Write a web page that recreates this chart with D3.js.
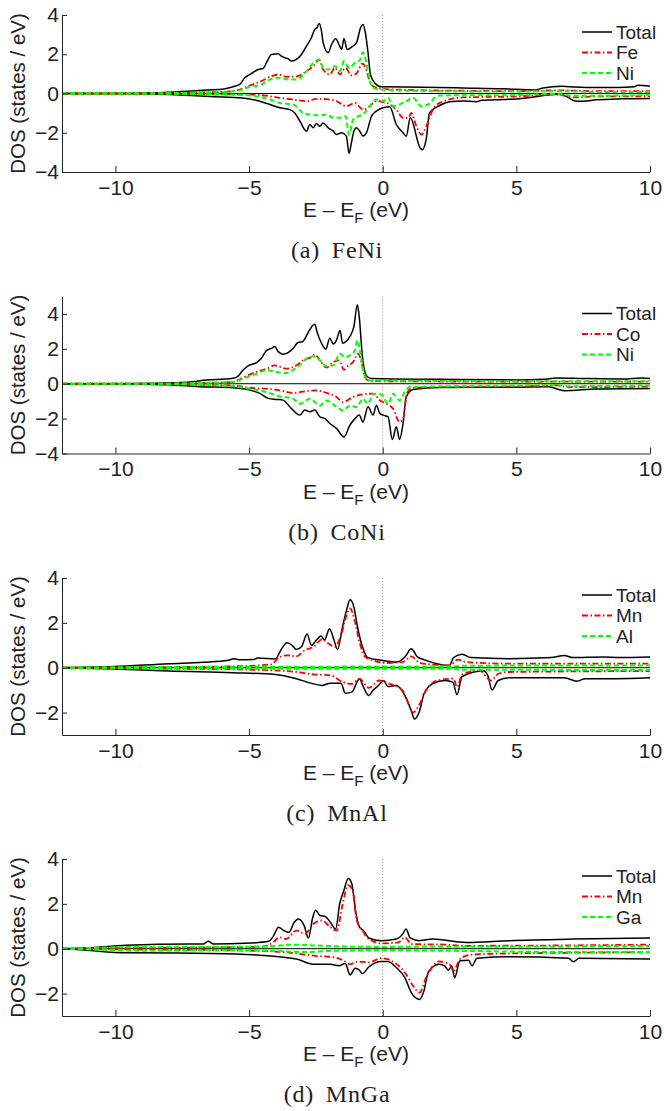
<!DOCTYPE html>
<html>
<head>
<meta charset="utf-8">
<script src="https://cdn.jsdelivr.net/npm/d3@7"></script>
<style>
  body { margin: 0; background: #fff; }
  svg text { font-family: "Liberation Sans", Arial, sans-serif; fill: #222; }
</style>
</head>
<body>
<script>
// Four spin-resolved DOS panels stacked vertically, MATLAB style.
var svg_width = 664;
var svg_height = 1111;

// shared x range and ticks
var energyDomain = [-12, 10];
var energyTicks = [-10, -5, 0, 5, 10];

// ---- (a) FeNi : [E, DOS] pairs ----
var feniTotalUp = [[-12,0],[-10,0],[-9,0.02],[-8,0.06],[-7,0.14],[-6.5,0.18],[-6,0.22],[-5.6,0.34],[-5.35,0.46],[-5.16,0.8],[-4.97,0.97],[-4.66,1.22],[-4.47,1.28],[-4.35,1.57],[-4.16,1.99],[-3.91,2.02],[-3.79,1.9],[-3.66,1.82],[-3.54,1.77],[-3.41,1.65],[-3.23,1.74],[-3.04,1.99],[-2.85,2.42],[-2.67,2.84],[-2.54,3.27],[-2.46,3.35],[-2.38,3.57],[-2.29,3.18],[-2.23,2.59],[-2.04,2.08],[-1.92,2.48],[-1.76,2.79],[-1.63,2.48],[-1.54,2.24],[-1.45,2.8],[-1.33,2.24],[-1.17,2.36],[-0.98,2.59],[-0.83,3.35],[-0.74,3.52],[-0.65,3.1],[-0.55,2.08],[-0.46,0.97],[-0.3,0.54],[-0.05,0.34],[1.5,0.32],[3,0.28],[4.5,0.24],[5.7,0.18],[6.0,0.28],[6.7,0.37],[7.2,0.33],[7.9,0.3],[8.8,0.3],[9.4,0.34],[9.55,0.42],[10,0.37]];
var feniTotalDn = [[-12,0],[-10,0],[-9,-0.02],[-8,-0.05],[-7,-0.12],[-6,-0.18],[-5.35,-0.22],[-4.6,-0.39],[-4.22,-0.56],[-3.85,-0.73],[-3.48,-0.82],[-3.29,-0.99],[-3.1,-1.41],[-2.85,-1.92],[-2.73,-1.58],[-2.6,-1.75],[-2.48,-1.53],[-2.35,-1.67],[-2.23,-1.5],[-2.04,-1.75],[-1.85,-1.92],[-1.73,-2.09],[-1.54,-2.0],[-1.36,-2.17],[-1.26,-3.06],[-1.17,-2.5],[-1.08,-1.92],[-0.98,-1.75],[-0.86,-1.92],[-0.74,-2.17],[-0.61,-2.0],[-0.42,-1.16],[-0.24,-0.9],[0.01,-0.73],[0.26,-0.68],[0.51,-1.58],[0.76,-2.0],[0.88,-2.18],[1.03,-1.24],[1.4,-2.77],[1.48,-2.86],[1.63,-2.3],[1.75,-0.99],[2.13,-0.61],[2.5,-0.42],[3.0,-0.38],[3.5,-0.42],[3.7,-0.35],[4.5,-0.3],[5.2,-0.25],[5.8,-0.15],[6.5,-0.04],[6.8,-0.1],[7.2,-0.38],[7.5,-0.4],[8,-0.32],[9,-0.27],[10,-0.25]];
var feniFeUp = [[-12,0],[-9,0],[-8,0.02],[-7,0.05],[-6,0.08],[-5.35,0.2],[-4.97,0.41],[-4.54,0.63],[-4.16,0.88],[-3.91,0.97],[-3.6,0.85],[-3.23,0.87],[-2.85,1.14],[-2.54,1.48],[-2.38,1.73],[-2.23,1.22],[-1.98,0.97],[-1.79,1.31],[-1.6,0.97],[-1.39,1.31],[-1.17,0.92],[-0.98,1.02],[-0.76,1.52],[-0.64,1.31],[-0.51,0.71],[-0.36,0.37],[-0.05,0.24],[1,0.18],[3,0.14],[5,0.12],[6.5,0.16],[8,0.12],[10,0.12]];
var feniFeDn = [[-12,0],[-9,0],[-7,-0.03],[-5.5,-0.05],[-4.97,-0.05],[-4.22,-0.14],[-3.85,-0.22],[-3.35,-0.31],[-2.85,-0.39],[-2.48,-0.27],[-2.1,-0.29],[-1.73,-0.39],[-1.36,-0.65],[-1.04,-0.48],[-0.74,-0.82],[-0.49,-0.65],[-0.24,-0.39],[0.14,-0.48],[0.51,-0.82],[0.76,-1.24],[0.95,-1.24],[1.07,-0.99],[1.26,-1.67],[1.45,-2.09],[1.63,-1.67],[1.88,-0.82],[2.13,-0.48],[3,-0.2],[5,-0.15],[6.5,-0.05],[7.2,-0.2],[8,-0.15],[10,-0.14]];
var feniNiUp = [[-12,0],[-9,0],[-8,0.02],[-7,0.04],[-6,0.07],[-5.35,0.17],[-4.97,0.34],[-4.54,0.46],[-4.22,0.71],[-3.91,0.8],[-3.48,0.71],[-3.23,0.71],[-2.85,1.14],[-2.6,1.56],[-2.38,1.73],[-2.23,1.31],[-2.04,1.22],[-1.79,1.39],[-1.6,1.14],[-1.45,1.65],[-1.26,1.31],[-1.04,1.56],[-0.86,1.7],[-0.74,2.1],[-0.61,1.56],[-0.49,0.71],[-0.36,0.29],[-0.05,0.2],[2,0.12],[5,0.1],[6.5,0.12],[8,0.08],[10,0.08]];
var feniNiDn = [[-12,0],[-9,0],[-7,-0.03],[-5.5,-0.06],[-4.97,-0.1],[-4.22,-0.31],[-3.85,-0.48],[-3.35,-0.56],[-2.98,-0.99],[-2.73,-1.07],[-2.35,-1.12],[-2.1,-1.07],[-1.85,-1.24],[-1.6,-1.24],[-1.39,-1.16],[-1.26,-2.09],[-1.11,-1.33],[-0.92,-1.16],[-0.74,-1.07],[-0.49,-0.65],[-0.24,-0.31],[0.01,-0.39],[0.2,-0.22],[0.39,-0.65],[0.63,-0.56],[0.88,-0.39],[1.13,-0.22],[1.45,-0.65],[1.7,-0.56],[1.94,-0.22],[2.13,-0.1],[5,-0.08],[6.5,-0.02],[7.2,-0.12],[10,-0.08]];

// ---- (b) CoNi ----
var coniTotalUp = [[-12,0],[-10,0],[-9,0.01],[-8,0.05],[-7,0.13],[-6.84,0.17],[-5.6,0.31],[-5.41,0.44],[-5.22,0.79],[-5.04,1.02],[-4.72,1.21],[-4.54,1.46],[-4.35,1.9],[-4.16,2.03],[-4.04,2.13],[-3.91,1.84],[-3.73,1.69],[-3.54,1.78],[-3.35,2.03],[-3.17,2.36],[-3.0,2.41],[-2.79,2.93],[-2.63,3.32],[-2.54,3.41],[-2.46,2.98],[-2.29,2.32],[-2.13,1.98],[-1.98,2.6],[-1.85,2.28],[-1.73,2.5],[-1.6,3.05],[-1.5,2.32],[-1.38,2.41],[-1.23,2.7],[-1.08,3.27],[-0.95,4.52],[-0.88,3.85],[-0.76,1.55],[-0.61,0.46],[-0.42,0.3],[2.13,0.25],[5,0.22],[6.0,0.25],[6.5,0.33],[7.5,0.3],[9,0.27],[9.7,0.33],[10,0.3]];
var coniTotalDn = [[-12,0],[-10,0],[-9,-0.02],[-8,-0.06],[-6.84,-0.17],[-5.6,-0.23],[-4.97,-0.36],[-4.6,-0.55],[-4.28,-0.84],[-3.97,-0.9],[-3.73,-0.94],[-3.48,-1.32],[-3.23,-1.7],[-3.1,-1.8],[-2.92,-1.51],[-2.73,-1.61],[-2.54,-1.51],[-2.35,-1.9],[-2.16,-2.0],[-1.98,-2.28],[-1.73,-2.56],[-1.45,-3.05],[-1.23,-2.38],[-1.04,-2.0],[-0.88,-1.8],[-0.74,-2.19],[-0.55,-1.32],[-0.36,-1.8],[-0.24,-1.23],[-0.11,-1.7],[0.01,-1.8],[0.2,-1.9],[0.36,-3.2],[0.51,-2.47],[0.63,-3.2],[0.76,-2.28],[0.88,-0.75],[1.13,-0.33],[2.13,-0.21],[5,-0.2],[6.2,-0.18],[6.8,-0.4],[8,-0.3],[10,-0.27]];
var coniCoUp = [[-12,0],[-9,0],[-7,0.04],[-5.6,0.1],[-5.22,0.35],[-4.85,0.61],[-4.35,0.86],[-4.04,1.05],[-3.6,0.86],[-3.23,1.05],[-2.98,1.34],[-2.67,1.53],[-2.54,1.67],[-2.35,1.34],[-2.1,0.92],[-1.85,1.24],[-1.63,1.34],[-1.45,0.8],[-1.29,1.05],[-1.11,1.24],[-0.92,1.72],[-0.8,1.24],[-0.67,0.38],[-0.49,0.15],[2,0.13],[6.5,0.12],[10,0.12]];
var coniCoDn = [[-12,0],[-9,0],[-7,-0.05],[-5.6,-0.1],[-4.97,-0.23],[-4.35,-0.29],[-3.85,-0.38],[-3.35,-0.53],[-2.85,-0.42],[-2.48,-0.38],[-2.1,-0.53],[-1.73,-0.76],[-1.48,-1.05],[-1.11,-0.76],[-0.74,-0.61],[-0.36,-0.57],[-0.11,-0.95],[0.14,-1.15],[0.39,-1.44],[0.63,-2.2],[0.78,-1.9],[0.9,-0.57],[1.13,-0.23],[5,-0.15],[6.5,-0.1],[7,-0.2],[10,-0.16]];
var coniNiUp = [[-12,0],[-9,0],[-7,0.04],[-5.6,0.1],[-5.22,0.29],[-4.72,0.57],[-4.35,0.77],[-3.97,0.67],[-3.6,0.61],[-3.23,0.92],[-2.73,1.53],[-2.54,1.57],[-2.35,1.34],[-2.1,1.0],[-1.85,1.05],[-1.6,1.72],[-1.42,1.53],[-1.23,1.63],[-1.04,1.9],[-0.95,2.49],[-0.83,1.72],[-0.7,0.57],[-0.55,0.2],[2,0.16],[6.5,0.14],[10,0.15]];
var coniNiDn = [[-12,0],[-9,0],[-7,-0.05],[-5.6,-0.15],[-4.97,-0.29],[-4.35,-0.48],[-3.85,-0.73],[-3.35,-0.86],[-3.1,-1.15],[-2.73,-0.86],[-2.35,-1.25],[-2.1,-0.96],[-1.79,-1.25],[-1.48,-1.53],[-1.23,-1.25],[-0.98,-1.34],[-0.74,-0.86],[-0.55,-1.15],[-0.36,-0.57],[-0.05,-0.61],[0.2,-1.15],[0.39,-0.57],[0.63,-0.96],[0.82,-0.48],[1.01,-0.19],[5,-0.1],[6.5,-0.08],[7,-0.14],[10,-0.1]];

// ---- (c) MnAl ----
var mnalTotalUp = [[-12,0],[-10.06,0.05],[-8,0.18],[-6.72,0.24],[-5.77,0.33],[-5.58,0.4],[-5.37,0.36],[-4.82,0.37],[-4.69,0.43],[-4.02,0.39],[-3.78,0.85],[-3.58,1.11],[-3.39,1.0],[-3.23,0.81],[-3.04,0.93],[-2.83,1.5],[-2.67,1.0],[-2.46,1.26],[-2.31,1.41],[-2.18,1.23],[-1.99,1.74],[-1.83,1.26],[-1.69,0.81],[-1.51,1.8],[-1.35,2.58],[-1.22,3.03],[-1.1,2.8],[-0.92,1.68],[-0.76,0.93],[-0.56,0.45],[-0.05,0.33],[0.51,0.25],[0.83,0.48],[1.07,0.84],[1.3,0.48],[1.54,0.36],[2.5,0.1],[2.65,0.45],[2.97,0.6],[3.29,0.45],[4.72,0.4],[6.31,0.45],[6.79,0.55],[7.11,0.45],[8.22,0.48],[8.86,0.45],[10,0.48]];
var mnalTotalDn = [[-12,0],[-10.06,-0.06],[-8,-0.15],[-5.61,-0.22],[-4.02,-0.3],[-3.23,-0.49],[-2.59,-0.72],[-2.27,-0.79],[-1.96,-0.69],[-1.56,-0.69],[-1.4,-1.14],[-1.16,-1.09],[-0.87,-0.49],[-0.72,-0.87],[-0.52,-1.24],[-0.37,-1.02],[-0.16,-0.79],[0.03,-0.57],[0.19,-0.84],[0.51,-0.79],[0.83,-1.24],[1.07,-1.92],[1.19,-2.29],[1.38,-1.92],[1.54,-1.17],[1.86,-0.72],[2.34,-0.57],[2.62,-0.64],[2.78,-1.2],[2.97,-0.39],[3.77,-0.15],[3.93,-0.34],[4.09,-0.99],[4.32,-0.57],[4.72,-0.45],[6.79,-0.45],[7.27,-0.6],[7.58,-0.49],[8.7,-0.49],[10,-0.45]];
var mnalMnUp = [[-12,0],[-8,0.03],[-5.61,0.06],[-4.18,0.15],[-3.86,0.48],[-3.55,0.55],[-3.23,0.51],[-2.91,0.78],[-2.59,0.93],[-2.27,1.26],[-2.03,1.08],[-1.8,0.93],[-1.56,1.45],[-1.35,2.35],[-1.22,2.65],[-1.07,2.2],[-0.87,1.15],[-0.68,0.51],[-0.37,0.33],[0.11,0.21],[0.75,0.25],[1.07,0.51],[1.38,0.21],[2.5,0.1],[2.81,0.36],[3.13,0.25],[4.72,0.18],[10,0.18]];
var mnalMnDn = [[-12,0],[-8,-0.04],[-4.82,-0.09],[-3.23,-0.19],[-2.59,-0.3],[-1.96,-0.34],[-1.48,-0.64],[-1.16,-0.72],[-0.87,-0.49],[-0.52,-0.9],[-0.13,-0.57],[0.19,-0.69],[0.75,-1.02],[1.14,-1.99],[1.38,-1.62],[1.62,-1.02],[2.02,-0.57],[2.65,-0.49],[2.78,-0.87],[2.97,-0.3],[3.61,-0.12],[4.05,-0.57],[4.32,-0.27],[4.72,-0.19],[10,-0.15]];
var mnalAlUp = [[-12,0],[-10,0.02],[-5,0.04],[0,0.05],[2.5,0.05],[3,0.09],[10,0.1]];
var mnalAlDn = [[-12,0],[-10,-0.02],[-5,-0.04],[0,-0.05],[2.5,-0.05],[3,-0.09],[10,-0.1]];

// ---- (d) MnGa ----
var mngaTotalUp = [[-12,0],[-11.18,0.03],[-9.59,0.16],[-7.2,0.21],[-6.72,0.21],[-6.53,0.33],[-6.33,0.21],[-5.13,0.24],[-4.26,0.33],[-4.1,0.54],[-3.9,0.96],[-3.7,0.81],[-3.51,0.73],[-3.31,1.18],[-3.15,1.33],[-2.94,1.03],[-2.78,0.48],[-2.62,1.38],[-2.51,1.71],[-2.35,1.48],[-2.15,1.44],[-1.96,1.18],[-1.76,0.88],[-1.61,2.0],[-1.45,2.61],[-1.29,3.13],[-1.16,2.91],[-1.0,1.56],[-0.87,0.96],[-0.72,0.81],[-0.52,0.48],[-0.05,0.36],[0.51,0.43],[0.75,0.66],[0.87,0.88],[1.03,0.48],[1.38,0.36],[1.86,0.43],[3.13,0.28],[4.72,0.36],[7.11,0.43],[10,0.48]];
var mngaTotalDn = [[-12,0],[-11.18,-0.06],[-9.59,-0.18],[-6.41,-0.21],[-4.82,-0.27],[-3.23,-0.46],[-2.59,-0.69],[-1.96,-0.69],[-1.64,-0.76],[-1.4,-0.66],[-1.22,-1.17],[-1.03,-0.87],[-0.87,-0.96],[-0.76,-1.11],[-0.52,-0.81],[-0.05,-0.57],[0.19,-0.57],[0.51,-0.84],[0.83,-1.29],[1.07,-1.96],[1.38,-2.26],[1.54,-1.89],[1.7,-1.06],[2.1,-0.69],[2.31,-0.76],[2.46,-0.96],[2.58,-0.76],[2.69,-1.29],[2.89,-0.54],[3.21,-0.51],[3.34,-0.76],[3.53,-0.42],[4.72,-0.36],[6.95,-0.42],[7.14,-0.58],[7.35,-0.43],[10,-0.46]];
var mngaMnUp = [[-12,0],[-9.59,0.03],[-6.41,0.06],[-4.5,0.09],[-4.1,0.28],[-3.86,0.51],[-3.62,0.43],[-3.23,0.81],[-2.91,0.66],[-2.59,1.11],[-2.27,1.26],[-1.96,0.96],[-1.72,0.81],[-1.51,1.93],[-1.29,2.83],[-1.13,2.61],[-0.97,1.26],[-0.76,0.81],[-0.52,0.43],[-0.05,0.24],[0.59,0.28],[0.83,0.51],[1.07,0.21],[2.34,0.18],[3.13,0.13],[10,0.18]];
var mngaMnDn = [[-12,0],[-9.59,-0.03],[-4.82,-0.09],[-3.23,-0.21],[-2.59,-0.31],[-1.8,-0.39],[-1.45,-0.54],[-1.22,-0.69],[-0.92,-0.57],[-0.52,-0.61],[-0.05,-0.42],[0.43,-0.61],[0.83,-1.06],[1.14,-1.66],[1.38,-1.96],[1.62,-1.29],[2.1,-0.57],[2.5,-0.69],[2.65,-0.99],[2.89,-0.46],[3.29,-0.27],[4.72,-0.21],[10,-0.16]];
var mngaGaUp = [[-12,0],[-11,0.03],[-9,0.08],[-6,0.08],[-4,0.12],[-3.5,0.18],[-2,0.12],[0,0.08],[2,0.1],[5,0.1],[10,0.12]];
var mngaGaDn = [[-12,0],[-11,-0.03],[-9,-0.08],[-6,-0.06],[-4,-0.1],[-3,-0.15],[-2,-0.1],[0,-0.07],[3,-0.1],[7,-0.15],[10,-0.15]];

// captions, legend names, y ranges and y ticks per panel
var captions = ["(a) FeNi", "(b) CoNi", "(c) MnAl", "(d) MnGa"];
var legendNames = [["Total", "Fe", "Ni"], ["Total", "Co", "Ni"], ["Total", "Mn", "Al"], ["Total", "Mn", "Ga"]];
var yDomains = [[-4, 4], [-4, 5], [-3, 4], [-3, 4]];
var yTicks = [[-4, -2, 0, 2, 4], [-4, -2, 0, 2, 4], [-2, 0, 2, 4], [-2, 0, 2, 4]];

// the table the drawing code walks through
var panels = [
    { total: [feniTotalUp, feniTotalDn], a: [feniFeUp, feniFeDn], b: [feniNiUp, feniNiDn] },
    { total: [coniTotalUp, coniTotalDn], a: [coniCoUp, coniCoDn], b: [coniNiUp, coniNiDn] },
    { total: [mnalTotalUp, mnalTotalDn], a: [mnalMnUp, mnalMnDn], b: [mnalAlUp, mnalAlDn] },
    { total: [mngaTotalUp, mngaTotalDn], a: [mngaMnUp, mngaMnDn], b: [mngaGaUp, mngaGaDn] }
];

// layout: all four axes share the same x placement
var plotLeft = 62, plotRight = 650;
var panelTops = [15, 296.5, 578, 859];
var plotHeight = 157;

var styles = {
    total: { color: "#000", width: 1.5, dash: null },
    a: { color: "#ff0000", width: 1.8, dash: "6,2.5,1.5,2.5" },
    b: { color: "#00ff00", width: 2, dash: "5,3" }
};

var svg = d3.select("body").append("svg")
    .attr("width", svg_width)
    .attr("height", svg_height);

var x = d3.scaleLinear().domain(energyDomain).range([plotLeft, plotRight]);
var tickFmt = d3.format("d");

panels.forEach(function(p, i) {
    var top = panelTops[i];
    var bottom = top + plotHeight;
    var y = d3.scaleLinear().domain(yDomains[i]).range([bottom, top]);
    var g = svg.append("g");

    var line = d3.line()
        .x(function(d) { return x(d[0]); })
        .y(function(d) { return y(d[1]); })
        .curve(d3.curveMonotoneX);

    // zero line and the Fermi level marker
    g.append("line")
        .attr("x1", x(energyDomain[0])).attr("x2", x(energyDomain[1]))
        .attr("y1", y(0)).attr("y2", y(0))
        .attr("stroke", "#000").attr("stroke-width", 1);
    g.append("line")
        .attr("x1", x(0)).attr("x2", x(0))
        .attr("y1", top).attr("y2", bottom)
        .attr("stroke", "#888").attr("stroke-width", 0.9)
        .attr("stroke-dasharray", "1,2");

    // curves: total first, then the two atoms
    ["total", "a", "b"].forEach(function(key) {
        var st = styles[key];
        p[key].forEach(function(series) {
            g.append("path")
                .datum(series)
                .attr("d", line)
                .attr("fill", "none")
                .attr("stroke", st.color)
                .attr("stroke-width", st.width)
                .attr("stroke-dasharray", st.dash)
                .attr("stroke-linejoin", "round");
        });
    });

    // axes, ticks point inward like MATLAB
    var xAxis = g.append("g")
        .attr("transform", "translate(0," + bottom + ")")
        .call(d3.axisBottom(x).tickValues(energyTicks).tickFormat(tickFmt)
            .tickSizeInner(-6).tickSizeOuter(0).tickPadding(8));
    var yAxis = g.append("g")
        .attr("transform", "translate(" + plotLeft + ",0)")
        .call(d3.axisLeft(y).tickValues(yTicks[i]).tickFormat(tickFmt)
            .tickSizeInner(-5).tickSizeOuter(0).tickPadding(3));
    [xAxis, yAxis].forEach(function(ax) {
        ax.select(".domain").attr("stroke", "#222").attr("stroke-width", 1);
        ax.selectAll(".tick line").attr("stroke", "#222");
        ax.selectAll(".tick text").attr("font-size", 21).attr("font-family", null);
    });

    // axis labels
    g.append("text")
        .attr("transform", "translate(25," + (top + plotHeight / 2) + ") rotate(-90)")
        .attr("text-anchor", "middle")
        .attr("font-size", 20.5)
        .text("DOS (states / eV)");
    var xl = g.append("text")
        .attr("x", (plotLeft + plotRight) / 2)
        .attr("y", bottom + 45)
        .attr("text-anchor", "middle")
        .attr("font-size", 21);
    xl.append("tspan").text("E \u2013 E");
    xl.append("tspan").attr("font-size", 15).attr("dy", 6).text("F");
    xl.append("tspan").attr("dy", -6).text(" (eV)");

    // legend, top right inside the axes
    var leg = g.append("g");
    ["total", "a", "b"].forEach(function(key, k) {
        var st = styles[key];
        var ly = top + 17 + k * 20.5;
        leg.append("line")
            .attr("x1", 582).attr("x2", 612)
            .attr("y1", ly).attr("y2", ly)
            .attr("stroke", st.color)
            .attr("stroke-width", st.width)
            .attr("stroke-dasharray", st.dash);
        leg.append("text")
            .attr("x", 616).attr("y", ly)
            .attr("dy", "0.36em")
            .attr("font-size", 19)
            .text(legendNames[i][k]);
    });

    // sub-figure caption
    svg.append("text")
        .attr("x", 337)
        .attr("y", bottom + 86)
        .attr("text-anchor", "middle")
        .style("font-family", "'Liberation Serif', 'DejaVu Serif', serif")
        .attr("font-size", 24)
        .attr("letter-spacing", 0.8)
        .attr("word-spacing", 5)
        .text(captions[i]);
});
</script>
</body>
</html>
